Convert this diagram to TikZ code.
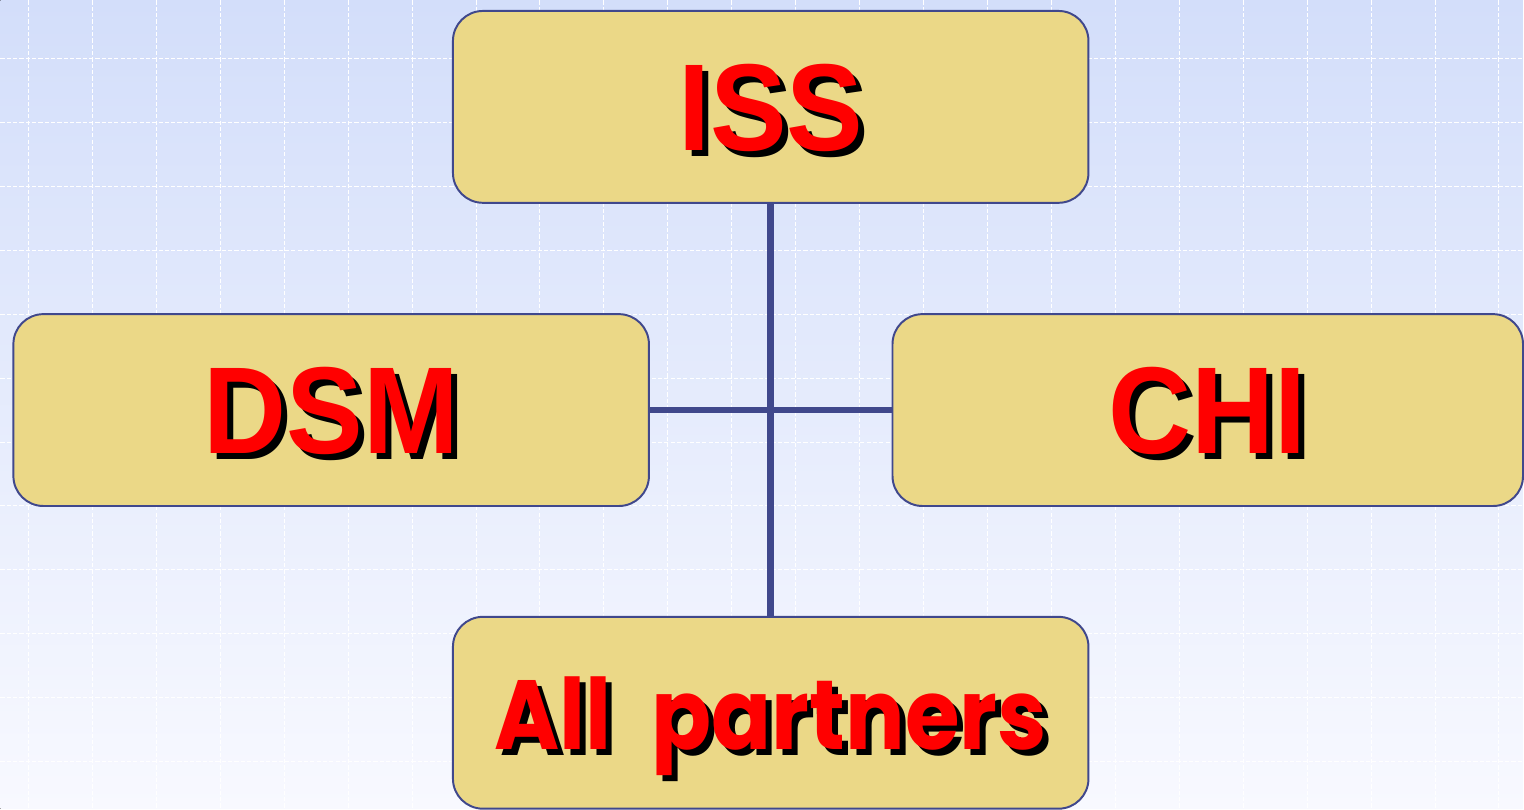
\documentclass[tikz,border=0pt]{standalone}
\usepackage{fontspec}
\newfontfamily\boxfont[FakeStretch=0.93]{Liberation Sans}
\newfontfamily\handfont[FakeStretch=0.9]{Poppins}
\definecolor{boxfill}{RGB}{235,216,135}
\definecolor{boxline}{RGB}{64,72,140}
\definecolor{bgtop}{RGB}{211,222,250}
\definecolor{bgbot}{RGB}{248,249,255}
\newcommand{\shadowed}[1]{\makebox[0pt][l]{\hspace{0.15cm}\raisebox{-0.15cm}{\color{black}#1}}\textcolor{red}{#1}}
\begin{document}
\begin{tikzpicture}[x=0.025cm,y=-0.025cm,
    unit/.style={draw=boxline,line width=1.4pt,fill=boxfill,rounded corners=0.75cm,
        minimum width=15.9cm,minimum height=4.8cm,text depth=0pt,inner sep=0pt,
        font=\boxfont\bfseries\fontsize{88}{90}\selectfont},
    handunit/.style={unit,font=\handfont\bfseries\fontsize{70}{80}\selectfont},
    link/.style={draw=boxline,line width=4.6pt},
    gridline/.style={white,line width=0.7pt,dash pattern=on 3pt off 1.5pt}]
                \fill [top color=bgtop,bottom color=bgbot] (0,0) rectangle (1524,809);
                \foreach \x in {28,92,...,1524}
                    \draw [gridline] (\x,0) -- (\x,809);
                \foreach \y in {58,122,...,809}
                    \draw [gridline] (0,\y) -- (1524,\y);
                \node [unit] (iss) at (771,106.5) {\shadowed{ISS}};
                \node [unit] (dsm) at (331,410) {\shadowed{DSM}};
                \node [unit,minimum width=15.775cm] (chi) at (1208.5,410) {\shadowed{CHI}};
                \node [handunit] (all) at (771,713) {\shadowed{All\hspace{1cm}partners}};
                \draw [link] (iss) -- (all);
                \draw [link] (dsm) -- (chi);
                \useasboundingbox (0,0) rectangle (1524,809);
            \end{tikzpicture}
\end{document}
